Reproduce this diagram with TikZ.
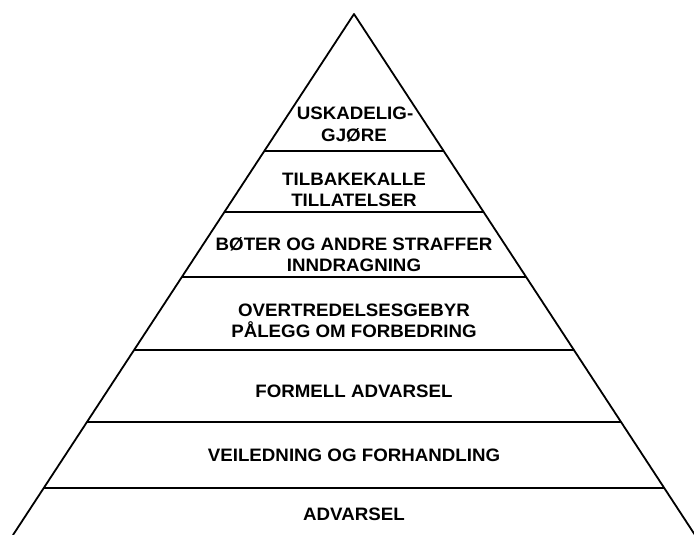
\documentclass[tikz,border=0pt]{standalone}
\usepackage{fontspec}
\setmainfont{Liberation Sans}
\newfontfamily\lblfont[FakeStretch=1.04]{Liberation Sans}
\usetikzlibrary{calc}
\begin{document}
\begin{tikzpicture}[x=1pt,y=-1pt,
  edge/.style={line width=1.8pt, line cap=round, line join=round},
  lbl/.style={anchor=base, inner sep=0pt, font=\lblfont\fontsize{18}{21}\selectfont\bfseries}]
\useasboundingbox (0,0) rectangle (694,535);
\clip (0,0) rectangle (694,535);
\coordinate (apex) at (354,14);
\coordinate (bl) at (13,535);
\coordinate (br) at (695,535);
\draw[edge] (bl) -- (apex) -- (br);
\foreach \yy/\nm in {151/a,212/b,277/c,350/d,422/e,488/f}{
  \coordinate (L\nm) at ($(apex)!{(\yy-14)/521}!(bl)$);
  \coordinate (R\nm) at ($(apex)!{(\yy-14)/521}!(br)$);
  \draw[edge, line cap=butt] (L\nm) -- (R\nm);
}
\node[lbl] (t1a) at (355,119.5) {USKADELIG-};
\node[lbl] (t1b) at (354,141.7) {GJØRE};
\node[lbl] (t2a) at (354,185) {TILBAKEKALLE};
\node[lbl] (t2b) at (354,206.7) {TILLATELSER};
\node[lbl] (t3a) at (354,250.7) {BØTER OG ANDRE STRAFFER};
\node[lbl] (t3b) at (354,271.7) {INNDRAGNING};
\node[lbl] (t4a) at (354,316.7) {OVERTREDELSESGEBYR};
\node[lbl] (t4b) at (354,337.7) {PÅLEGG OM FORBEDRING};
\node[lbl] (t5) at (354,397.3) {FORMELL ADVARSEL};
\node[lbl] (t6) at (354,461.7) {VEILEDNING OG FORHANDLING};
\node[lbl] (t7) at (354,520.7) {ADVARSEL};
\end{tikzpicture}
\end{document}
